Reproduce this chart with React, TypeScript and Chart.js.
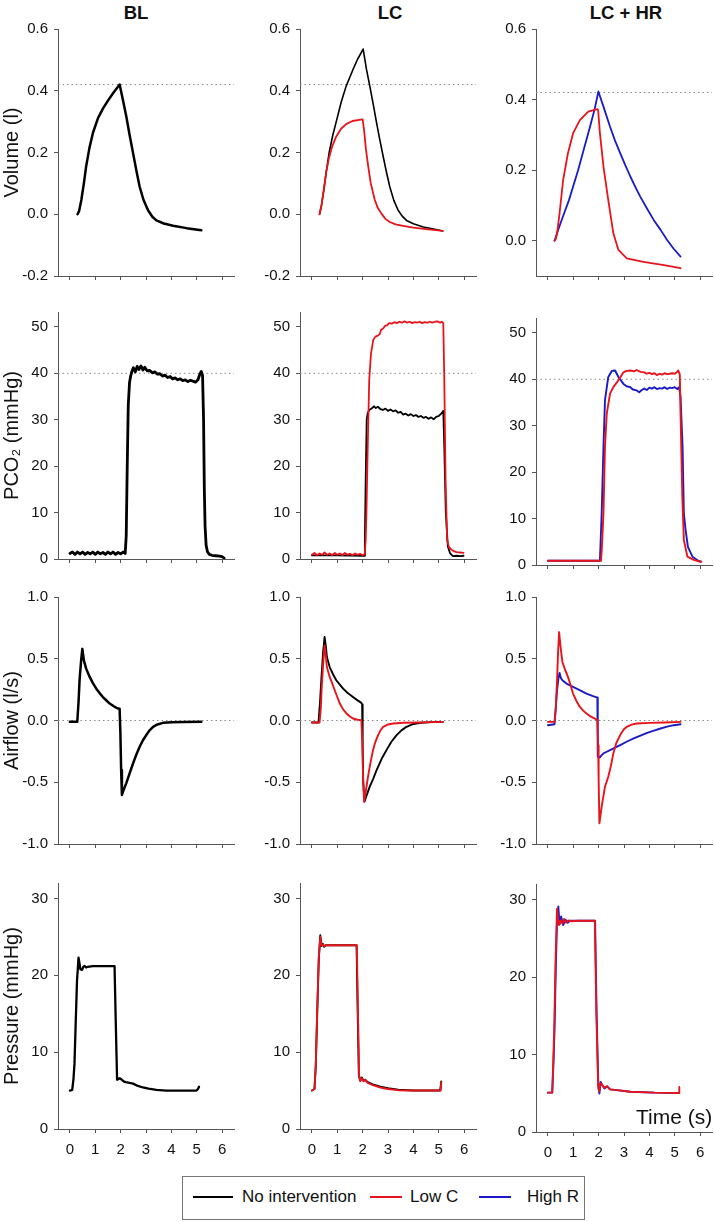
import React, { useEffect, useRef } from "react";
import { Chart, registerables } from "chart.js";

Chart.register(...registerables);

type Pt = [number, number];

// ---------------- labels & ticks ----------------
const colTitles = ["BL", "LC", "LC + HR"];
const rowTitles = ["Volume (l)", "PCO\u2082 (mmHg)", "Airflow (l/s)", "Pressure (mmHg)"];
const legendLabels = ["No intervention", "Low C", "High R"];
const timeLabel = "Time (s)";
const timeTicks = [0, 1, 2, 3, 4, 5, 6];
const volumeTicks = [-0.2, 0, 0.2, 0.4, 0.6];
const volumeTicksHR = [0, 0.2, 0.4, 0.6];
const pco2Ticks = [0, 10, 20, 30, 40, 50];
const flowTicks = [-1, -0.5, 0, 0.5, 1];
const pressureTicks = [0, 10, 20, 30];
const refVolume = 0.42;
const refPco2 = 40;
const refFlow = 0;

// ---------------- Volume (l) ----------------
const volBL: Pt[] = [[0.3,0],[0.36,0.01],[0.45,0.046],[0.55,0.1],[0.64,0.155],[0.77,0.215],[0.91,0.264],[1.1,0.31],[1.3,0.342],[1.5,0.368],[1.7,0.392],[1.85,0.408],[1.96,0.42],[2.09,0.37],[2.22,0.318],[2.35,0.258],[2.49,0.198],[2.62,0.142],[2.75,0.089],[2.9,0.047],[3.08,0.013],[3.25,-0.008],[3.41,-0.02],[3.7,-0.03],[4.07,-0.037],[4.6,-0.045],[5.18,-0.052]];
const volLCNone: Pt[] = [[0.3,0],[0.38,0.03],[0.47,0.08],[0.57,0.14],[0.68,0.2],[0.82,0.255],[0.96,0.3],[1.15,0.362],[1.35,0.415],[1.6,0.465],[1.8,0.502],[2.02,0.535],[2.15,0.47],[2.28,0.416],[2.42,0.355],[2.55,0.296],[2.68,0.24],[2.81,0.187],[2.94,0.136],[3.07,0.089],[3.23,0.045],[3.4,0.013],[3.56,-0.006],[3.73,-0.02],[4.0,-0.031],[4.39,-0.041],[4.8,-0.048],[5.16,-0.054]];
const volLCLow: Pt[] = [[0.3,0],[0.38,0.03],[0.47,0.08],[0.57,0.14],[0.68,0.185],[0.8,0.22],[0.96,0.252],[1.15,0.277],[1.35,0.292],[1.6,0.302],[1.8,0.305],[2.0,0.307],[2.06,0.27],[2.13,0.21],[2.22,0.155],[2.32,0.1],[2.48,0.046],[2.6,0.02],[2.74,0.002],[2.9,-0.015],[3.07,-0.025],[3.3,-0.033],[3.6,-0.038],[4.0,-0.043],[4.5,-0.048],[5.16,-0.054]];
const volHRLow: Pt[] = [[0.26,0],[0.31,0.005],[0.36,0.02],[0.46,0.078],[0.6,0.172],[0.79,0.248],[0.99,0.304],[1.26,0.342],[1.59,0.366],[1.95,0.373],[1.98,0.37],[2.05,0.305],[2.19,0.21],[2.38,0.115],[2.58,0.021],[2.78,-0.026],[3.11,-0.05],[3.77,-0.06],[4.57,-0.069],[5.23,-0.078]];
const volHRHigh: Pt[] = [[0.26,0],[0.3,0.008],[0.4,0.03],[0.6,0.07],[0.83,0.115],[1.0,0.155],[1.19,0.2],[1.4,0.255],[1.66,0.323],[1.85,0.375],[1.99,0.423],[2.19,0.38],[2.45,0.323],[2.65,0.283],[2.85,0.248],[3.05,0.214],[3.25,0.182],[3.45,0.152],[3.64,0.125],[3.9,0.092],[4.17,0.059],[4.45,0.03],[4.7,0.002],[4.95,-0.022],[5.23,-0.045]];

// ---------------- PCO2 (mmHg) ----------------
const pco2BL: Pt[] = [[0,1.2],[0.1,1.5],[0.2,1.0],[0.3,1.5],[0.4,1.1],[0.5,1.5],[0.6,1.0],[0.7,1.4],[0.8,1.1],[0.9,1.5],[1.0,1.0],[1.1,1.5],[1.2,1.1],[1.3,1.4],[1.4,1.0],[1.5,1.5],[1.6,1.1],[1.7,1.5],[1.8,1.0],[1.9,1.4],[2.0,1.1],[2.1,1.5],[2.18,1.2],[2.22,5],[2.26,20],[2.3,33],[2.35,38],[2.4,39.5],[2.45,40.5],[2.5,41.2],[2.58,40.3],[2.65,41.5],[2.72,40.8],[2.8,41.6],[2.88,40.7],[2.95,41.3],[3.05,40.5],[3.15,40.6],[3.25,40.1],[3.35,40.3],[3.45,39.8],[3.55,39.9],[3.65,39.4],[3.75,39.6],[3.85,39.1],[3.95,39.3],[4.05,38.8],[4.15,39.0],[4.25,38.6],[4.35,38.8],[4.45,38.4],[4.55,38.6],[4.65,38.2],[4.75,38.5],[4.85,38.3],[4.95,38.1],[5.05,38.6],[5.12,39.8],[5.18,40.4],[5.23,39.5],[5.27,30],[5.3,15],[5.33,7],[5.37,3],[5.42,1.6],[5.5,1.0],[5.6,0.8],[5.75,0.7],[5.9,0.6],[6.0,0.5],[6.08,0.2]];
const pco2LCNone: Pt[] = [[0,0.8],[1.0,0.8],[2.06,0.7],[2.09,5],[2.12,17],[2.16,30],[2.2,31.4],[2.26,32.1],[2.35,32.4],[2.45,32.9],[2.52,32.5],[2.6,32.8],[2.7,32.3],[2.8,32.1],[2.9,32.4],[3.0,31.9],[3.1,32.2],[3.2,31.8],[3.3,32.0],[3.4,31.5],[3.5,31.7],[3.6,31.1],[3.7,31.3],[3.8,30.9],[3.9,31.2],[4.0,30.8],[4.1,31.0],[4.2,30.6],[4.3,30.8],[4.4,30.4],[4.5,30.6],[4.6,30.2],[4.7,30.5],[4.8,30.1],[4.9,30.6],[5.0,30.8],[5.1,31.3],[5.18,31.9],[5.22,24],[5.28,9.9],[5.36,2.7],[5.45,1.2],[5.56,0.6],[5.7,0.7],[5.85,0.6],[5.98,0.7]];
const pco2LCLow: Pt[] = [[0,0.9],[0.1,1.3],[0.2,0.8],[0.3,1.2],[0.4,0.9],[0.5,1.4],[0.6,0.9],[0.7,1.2],[0.8,0.8],[0.9,1.3],[1.0,0.9],[1.1,1.2],[1.2,0.8],[1.3,1.3],[1.4,0.9],[1.5,1.1],[1.6,0.8],[1.7,1.2],[1.8,0.9],[1.9,1.1],[2.0,0.8],[2.08,1.0],[2.12,4],[2.15,10],[2.2,24],[2.26,38.6],[2.33,44.3],[2.42,47.2],[2.5,47.9],[2.6,48.1],[2.68,48.5],[2.73,49.4],[2.8,49.6],[2.88,50.2],[2.95,50.3],[3.05,50.8],[3.15,50.7],[3.25,51.0],[3.35,50.8],[3.45,51.1],[3.55,50.9],[3.65,51.2],[3.75,50.9],[3.85,51.1],[3.95,50.8],[4.05,51.0],[4.15,50.9],[4.25,51.1],[4.35,50.8],[4.45,51.0],[4.55,50.9],[4.65,51.1],[4.75,50.9],[4.85,51.1],[4.95,51.2],[5.05,50.9],[5.12,51.1],[5.18,50.8],[5.22,38.6],[5.27,17],[5.33,4.2],[5.4,2.6],[5.5,2.0],[5.6,1.7],[5.7,1.5],[5.85,1.4],[5.98,1.3]];
const pco2HRLow: Pt[] = [[0,0.9],[0.5,0.9],[1.0,0.9],[1.5,0.9],[2.09,0.9],[2.12,3],[2.19,11.1],[2.25,25.4],[2.32,32.6],[2.45,36.9],[2.58,38.3],[2.78,39.8],[2.98,41.5],[3.1,41.8],[3.25,41.9],[3.4,41.7],[3.5,42.0],[3.65,41.6],[3.8,41.5],[3.9,41.2],[4.0,41.4],[4.1,41.1],[4.2,41.3],[4.3,40.9],[4.4,41.2],[4.5,41.0],[4.6,41.3],[4.7,41.1],[4.8,41.2],[4.9,41.3],[5.0,41.2],[5.08,41.5],[5.14,41.9],[5.2,41.0],[5.23,32.6],[5.3,14.7],[5.36,5.4],[5.5,1.8],[5.75,1.1],[5.95,0.8],[6.05,0.7]];
const pco2HRHigh: Pt[] = [[0,0.9],[2.05,0.9],[2.12,11.1],[2.19,25.4],[2.25,35.5],[2.38,40.5],[2.52,41.8],[2.65,41.9],[2.78,40.5],[2.98,39.0],[3.1,38.5],[3.25,38.3],[3.35,37.8],[3.5,37.6],[3.6,37.2],[3.7,37.7],[3.8,38.0],[3.9,37.7],[4.0,38.2],[4.1,38.0],[4.2,38.3],[4.3,37.9],[4.4,38.1],[4.5,38.0],[4.6,38.3],[4.7,37.9],[4.8,38.2],[4.9,38.1],[5.0,38.3],[5.1,37.9],[5.17,38.3],[5.23,36.2],[5.31,25.4],[5.36,11.1],[5.43,7.5],[5.52,3.9],[5.7,1.8],[5.9,1.0],[6.03,0.7]];

// ---------------- Airflow (l/s) ----------------
const flowBL: Pt[] = [[0,-0.01],[0.29,-0.01],[0.34,0.15],[0.38,0.326],[0.44,0.48],[0.49,0.58],[0.55,0.487],[0.64,0.42],[0.78,0.353],[0.9,0.305],[1.04,0.258],[1.17,0.222],[1.3,0.19],[1.44,0.162],[1.57,0.137],[1.73,0.115],[1.89,0.097],[1.96,0.095],[1.99,-0.1],[2.02,-0.4],[2.05,-0.603],[2.12,-0.56],[2.22,-0.509],[2.35,-0.43],[2.49,-0.347],[2.62,-0.275],[2.75,-0.213],[2.88,-0.16],[3.01,-0.118],[3.14,-0.08],[3.28,-0.051],[3.45,-0.032],[3.67,-0.019],[4.0,-0.014],[4.5,-0.012],[5.18,-0.011]];
const flowLCNone: Pt[] = [[0,-0.016],[0.26,-0.016],[0.32,0.15],[0.37,0.326],[0.44,0.55],[0.5,0.676],[0.55,0.6],[0.59,0.514],[0.7,0.433],[0.83,0.375],[0.96,0.326],[1.1,0.29],[1.23,0.258],[1.4,0.225],[1.62,0.191],[1.8,0.163],[1.95,0.143],[1.98,0.13],[2.0,-0.2],[2.02,-0.482],[2.07,-0.657],[2.15,-0.61],[2.28,-0.536],[2.42,-0.47],[2.55,-0.401],[2.75,-0.31],[2.94,-0.24],[3.14,-0.17],[3.34,-0.118],[3.53,-0.08],[3.73,-0.051],[4.0,-0.028],[4.3,-0.018],[4.7,-0.013],[5.16,-0.011]];
const flowLCLow: Pt[] = [[0,-0.016],[0.3,-0.016],[0.35,0.1],[0.38,0.245],[0.44,0.45],[0.5,0.608],[0.55,0.52],[0.59,0.433],[0.7,0.353],[0.8,0.3],[0.9,0.245],[1.0,0.19],[1.1,0.137],[1.23,0.09],[1.36,0.057],[1.5,0.032],[1.62,0.016],[1.8,0.006],[1.95,0.003],[1.99,-0.2],[2.02,-0.482],[2.06,-0.657],[2.12,-0.58],[2.2,-0.47],[2.28,-0.374],[2.35,-0.3],[2.41,-0.24],[2.5,-0.175],[2.61,-0.118],[2.71,-0.078],[2.81,-0.051],[3.0,-0.032],[3.21,-0.024],[3.6,-0.018],[4.2,-0.016],[5.16,-0.011]];
const flowHRLow: Pt[] = [[0,-0.011],[0.26,-0.011],[0.31,0.1],[0.36,0.326],[0.4,0.55],[0.44,0.716],[0.5,0.595],[0.57,0.474],[0.66,0.42],[0.79,0.353],[0.89,0.29],[0.99,0.218],[1.12,0.16],[1.26,0.11],[1.39,0.08],[1.52,0.057],[1.68,0.033],[1.85,0.016],[1.95,0.003],[1.98,-0.2],[2.0,-0.482],[2.03,-0.832],[2.12,-0.697],[2.25,-0.536],[2.38,-0.455],[2.48,-0.37],[2.58,-0.266],[2.7,-0.18],[2.85,-0.118],[2.98,-0.075],[3.11,-0.051],[3.3,-0.033],[3.51,-0.024],[4.0,-0.019],[4.6,-0.016],[5.23,-0.011]];
const flowHRHigh: Pt[] = [[0,-0.038],[0.26,-0.03],[0.31,0.1],[0.36,0.245],[0.42,0.35],[0.46,0.385],[0.51,0.345],[0.57,0.326],[0.73,0.299],[0.93,0.278],[1.13,0.258],[1.33,0.238],[1.52,0.218],[1.75,0.2],[1.95,0.186],[1.96,0.0],[1.97,-0.293],[2.05,-0.299],[2.12,-0.28],[2.19,-0.266],[2.3,-0.255],[2.45,-0.24],[2.65,-0.22],[2.85,-0.199],[3.1,-0.172],[3.38,-0.145],[3.65,-0.122],[3.91,-0.1],[4.18,-0.082],[4.44,-0.065],[4.7,-0.05],[4.97,-0.038],[5.23,-0.03]];

// ---------------- Pressure (mmHg) ----------------
const presBL: Pt[] = [[0,5.0],[0.09,5.1],[0.14,6.5],[0.18,8.5],[0.23,14],[0.28,19.3],[0.34,22.3],[0.38,21.5],[0.41,20.8],[0.48,20.7],[0.53,21.1],[0.58,21.2],[0.64,21.0],[0.7,21.1],[0.9,21.2],[1.2,21.2],[1.5,21.2],[1.76,21.2],[1.8,15],[1.86,6.4],[1.92,6.5],[1.96,6.6],[2.05,6.4],[2.12,6.2],[2.2,6.1],[2.35,6.0],[2.49,5.9],[2.68,5.6],[2.88,5.4],[3.1,5.25],[3.41,5.1],[3.8,5.0],[4.4,5.0],[4.99,5.0],[5.05,5.2],[5.09,5.5]];
const presLCNone: Pt[] = [[0,5.0],[0.1,5.2],[0.15,8],[0.2,14],[0.27,22],[0.33,25.2],[0.38,23.8],[0.43,24.1],[0.48,23.7],[0.55,23.9],[0.8,23.9],[1.2,23.9],[1.5,23.9],[1.76,23.9],[1.8,16],[1.85,7],[1.9,6.3],[1.97,6.7],[2.03,6.3],[2.1,6.4],[2.2,6.1],[2.4,5.8],[2.7,5.5],[3.0,5.3],[3.4,5.1],[4.0,5.0],[4.6,5.0],[5.05,5.0],[5.08,5.6],[5.1,6.2]];
const presLCLow: Pt[] = [[0,5.0],[0.1,5.2],[0.15,8.2],[0.2,14.5],[0.27,22.3],[0.33,25.0],[0.38,23.9],[0.43,24.0],[0.48,23.8],[0.55,23.9],[0.8,23.9],[1.2,23.9],[1.5,23.9],[1.77,23.9],[1.81,16],[1.86,7],[1.91,6.2],[1.97,6.6],[2.04,6.2],[2.1,6.4],[2.2,6.0],[2.4,5.7],[2.7,5.4],[3.0,5.2],[3.4,5.05],[4.0,5.0],[4.6,5.0],[5.08,5.0],[5.1,6.1]];
const presHRLow: Pt[] = [[0,5.08],[0.17,5.08],[0.21,9],[0.25,13.5],[0.3,22],[0.36,28.8],[0.4,27.5],[0.44,26.7],[0.5,27.3],[0.57,26.9],[0.64,27.5],[0.72,27.0],[0.8,27.3],[0.9,27.2],[1.2,27.25],[1.5,27.25],[1.85,27.25],[1.91,15.3],[1.98,6.0],[2.02,5.2],[2.07,6.3],[2.14,6.1],[2.22,5.7],[2.32,5.9],[2.45,5.5],[2.72,5.4],[3.25,5.2],[4.2,5.08],[5.17,5.04],[5.18,5.8]];
const presHRHigh: Pt[] = [[0,5.08],[0.17,5.08],[0.22,9],[0.26,13.1],[0.31,21],[0.36,27.5],[0.41,29.1],[0.46,26.8],[0.52,27.8],[0.6,26.7],[0.69,27.4],[0.78,27.0],[0.86,27.25],[1.2,27.25],[1.5,27.25],[1.86,27.25],[1.92,15.3],[1.99,5.8],[2.03,4.95],[2.08,6.46],[2.15,6.0],[2.23,5.6],[2.34,5.9],[2.45,5.5],[2.72,5.4],[3.25,5.2],[4.2,5.08],[5.17,5.04]];

// ---------------- styling / layout ----------------
const BLACK = "#000000";
const RED = "#e8141c";
const BLUE = "#1a1ac8";
const AXIS = "#555555";
const FONT = "'Liberation Sans', Arial, Helvetica, sans-serif";

const colLeft = [58, 300, 536];
const plotW = 176;
const rowTop = [29, 312, 597, 883];
const rowH = [247, 247, 247, 246];
const xMin = -0.47;
const xMax = 6.47;

interface Series { data: Pt[]; color: string; width: number; }
interface PanelDef { col: number; row: number; yMin: number; yMax: number; yTicks: number[]; dec: number; ref: number; series: Series[]; dy?: number; dh?: number; }

const panels: PanelDef[] = [
  { col: 0, row: 0, yMin: -0.2, yMax: 0.6, yTicks: volumeTicks, dec: 1, ref: refVolume, series: [{ data: volBL, color: BLACK, width: 2.5 }] },
  { col: 1, row: 0, yMin: -0.2, yMax: 0.6, yTicks: volumeTicks, dec: 1, ref: refVolume, series: [{ data: volLCLow, color: RED, width: 1.8 }, { data: volLCNone, color: BLACK, width: 1.6 }] },
  { col: 2, row: 0, yMin: -0.1, yMax: 0.6, yTicks: volumeTicksHR, dec: 1, ref: refVolume, series: [{ data: volHRLow, color: RED, width: 1.8 }, { data: volHRHigh, color: BLUE, width: 1.8 }] },
  { col: 0, row: 1, yMin: 0, yMax: 53.2, yTicks: pco2Ticks, dec: 0, ref: refPco2, series: [{ data: pco2BL, color: BLACK, width: 2.8 }] },
  { col: 1, row: 1, yMin: 0, yMax: 53.2, yTicks: pco2Ticks, dec: 0, ref: refPco2, series: [{ data: pco2LCLow, color: RED, width: 1.8 }, { data: pco2LCNone, color: BLACK, width: 1.8 }] },
  { col: 2, row: 1, yMin: 0, yMax: 53.2, yTicks: pco2Ticks, dec: 0, ref: refPco2, dy: 6, series: [{ data: pco2HRLow, color: RED, width: 1.9 }, { data: pco2HRHigh, color: BLUE, width: 1.9 }] },
  { col: 0, row: 2, yMin: -1, yMax: 1, yTicks: flowTicks, dec: 1, ref: refFlow, series: [{ data: flowBL, color: BLACK, width: 2.5 }] },
  { col: 1, row: 2, yMin: -1, yMax: 1, yTicks: flowTicks, dec: 1, ref: refFlow, series: [{ data: flowLCLow, color: RED, width: 1.9 }, { data: flowLCNone, color: BLACK, width: 1.9 }] },
  { col: 2, row: 2, yMin: -1, yMax: 1, yTicks: flowTicks, dec: 1, ref: refFlow, series: [{ data: flowHRLow, color: RED, width: 1.9 }, { data: flowHRHigh, color: BLUE, width: 1.9 }] },
  { col: 0, row: 3, yMin: 0, yMax: 32, yTicks: pressureTicks, dec: 0, ref: NaN, series: [{ data: presBL, color: BLACK, width: 2.3 }] },
  { col: 1, row: 3, yMin: 0, yMax: 32, yTicks: pressureTicks, dec: 0, ref: NaN, series: [{ data: presLCLow, color: RED, width: 1.9 }, { data: presLCNone, color: BLACK, width: 1.9 }] },
  { col: 2, row: 3, yMin: 0, yMax: 32, yTicks: pressureTicks, dec: 0, ref: NaN, dy: 1, dh: 2, series: [{ data: presHRLow, color: RED, width: 1.9 }, { data: presHRHigh, color: BLUE, width: 1.9 }] },
];

function Panel({ def }: { def: PanelDef }) {
  const ref = useRef<HTMLCanvasElement | null>(null);
  const LW = def.col === 0 ? 58 : 48;
  const TP = 12;
  const RP = 6;
  const BH = def.row === 3 ? 36 : 8;
  const plotTop = rowTop[def.row] + (def.dy || 0);
  const plotH = rowH[def.row] + (def.dh || 0);
  const W = LW + plotW + RP;
  const H = TP + plotH + BH;
  const left = colLeft[def.col] - LW;
  const top = plotTop - TP;

  useEffect(() => {
    const datasets: any[] = def.series.map((s) => ({
      data: s.data.map(([x, y]) => ({ x, y })),
      borderColor: s.color,
      borderWidth: s.width,
      pointRadius: 0,
      tension: 0,
      fill: false,
      borderJoinStyle: "round",
      borderCapStyle: "round",
    }));
    if (!isNaN(def.ref)) {
      datasets.push({
        data: [{ x: xMin, y: def.ref }, { x: xMax, y: def.ref }],
        borderColor: "#8a8a8a",
        borderWidth: 1,
        borderDash: [1.5, 3],
        pointRadius: 0,
        fill: false,
      });
    }
    const tickFont = { family: FONT, size: 15 };
    const chart = new Chart(ref.current as HTMLCanvasElement, {
      type: "line",
      data: { datasets },
      options: {
        animation: false,
        responsive: false,
        devicePixelRatio: 1,
        events: [],
        layout: { padding: { left: 0, top: TP, right: RP, bottom: 0 } },
        plugins: { legend: { display: false }, tooltip: { enabled: false }, title: { display: false } },
        scales: {
          x: {
            type: "linear",
            min: xMin,
            max: xMax,
            afterBuildTicks: (s: any) => { s.ticks = timeTicks.map((v) => ({ value: v })); },
            afterFit: (s: any) => { s.height = BH; s.paddingLeft = 0; s.paddingRight = 0; },
            grid: { display: true, drawOnChartArea: false, drawTicks: true, tickLength: 4, color: AXIS, lineWidth: 1 },
            border: { display: true, color: AXIS, width: 1 },
            ticks: { display: def.row === 3, padding: 8, font: tickFont, color: "#111", maxRotation: 0, autoSkip: false },
          },
          y: {
            type: "linear",
            min: def.yMin,
            max: def.yMax,
            afterBuildTicks: (s: any) => { s.ticks = def.yTicks.map((v) => ({ value: v })); },
            afterFit: (s: any) => { s.width = LW; s.paddingTop = 0; s.paddingBottom = 0; },
            grid: { display: true, drawOnChartArea: false, drawTicks: true, tickLength: 4, color: AXIS, lineWidth: 1 },
            border: { display: true, color: AXIS, width: 1 },
            ticks: {
              padding: 6,
              font: tickFont,
              color: "#111",
              autoSkip: false,
              callback: (v: any) => Number(v).toFixed(def.dec),
            },
            title: {
              display: def.col === 0,
              text: rowTitles[def.row],
              font: { family: FONT, size: 20 },
              color: "#111",
              padding: 0,
            },
          },
        },
      } as any,
    });
    return () => chart.destroy();
  }, []);

  return (
    <canvas
      ref={ref}
      width={W}
      height={H}
      style={{ position: "absolute", left, top, width: W, height: H }}
    />
  );
}

const titleCenters = [136, 390, 626];
const legendLines = [
  { x: 193, w: 40, color: BLACK },
  { x: 370, w: 32, color: RED },
  { x: 479, w: 32, color: BLUE },
];
const legendTextX = [242, 410, 527];

export default function App() {
  return (
    <div
      style={{
        position: "absolute",
        left: 0,
        top: 0,
        width: 714,
        height: 1222,
        background: "#fff",
        overflow: "hidden",
        fontFamily: FONT,
        color: "#111",
      }}
    >
      {colTitles.map((t, i) => (
        <div
          key={t}
          style={{
            position: "absolute",
            left: titleCenters[i] - 60,
            width: 120,
            top: 3,
            textAlign: "center",
            fontWeight: "bold",
            fontSize: 18.5,
            lineHeight: "20px",
          }}
        >
          {t}
        </div>
      ))}
      {panels.map((p, i) => (
        <Panel key={i} def={p} />
      ))}
      <div style={{ position: "absolute", left: 636, top: 1106, fontSize: 21, lineHeight: "22px", whiteSpace: "nowrap" }}>
        {timeLabel}
      </div>
      <div
        style={{
          position: "absolute",
          left: 182,
          top: 1176,
          width: 403,
          height: 44,
          border: "1px solid #777",
          boxSizing: "border-box",
        }}
      />
      {legendLines.map((l, i) => (
        <div key={i} style={{ position: "absolute", left: l.x, top: 1196, width: l.w, height: 2, background: l.color }} />
      ))}
      {legendLabels.map((t, i) => (
        <div
          key={t}
          style={{ position: "absolute", left: legendTextX[i], top: 1186, fontSize: 17, lineHeight: "22px", whiteSpace: "nowrap" }}
        >
          {t}
        </div>
      ))}
    </div>
  );
}
